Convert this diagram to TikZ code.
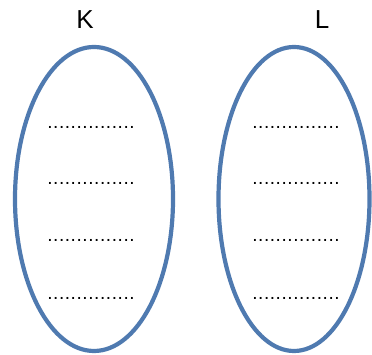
\documentclass[tikz,border=0pt]{standalone}
\usepackage{fontspec}
\setmainfont{Liberation Sans}
\usepackage{xcolor}
\usepackage{tikz}
\definecolor{setblue}{RGB}{79, 122, 176}
\usetikzlibrary{shapes.geometric, positioning}
\newcommand{\dotrow}{\hbox to 88pt{\leaders\hbox to 5.86pt{\hss.\hss}\hfill}}

\begin{document}
\begin{tikzpicture}[
    x=1pt, y=1pt,
    node distance=4pt,
    setring/.style={ellipse, draw=setblue, line width=4.2pt, inner sep=0pt},
    setname/.style={font=\fontsize{26}{26}\selectfont, inner sep=0pt},
    blank/.style={font=\fontsize{19}{19}\selectfont, inner sep=0pt}
]
    \useasboundingbox (0,0) rectangle (372,355);
    \node[setring, minimum width=158pt, minimum height=304pt] (setK) at (94,156) {};
    \node[setring, minimum width=151pt, minimum height=304pt] (setL) at (294,156) {};
    \node[setname] (labK) at (85,335) {K};
    \node[setname] (labL) at (322,335) {L};
    % blank lines inside each set
    \foreach \r/\y in {1/228, 2/172, 3/115, 4/57} {
        \node[blank] (K\r) at (91,\y) {\dotrow};
        \node[blank] (L\r) at (296,\y) {\dotrow};
    }
\end{tikzpicture}
\end{document}
